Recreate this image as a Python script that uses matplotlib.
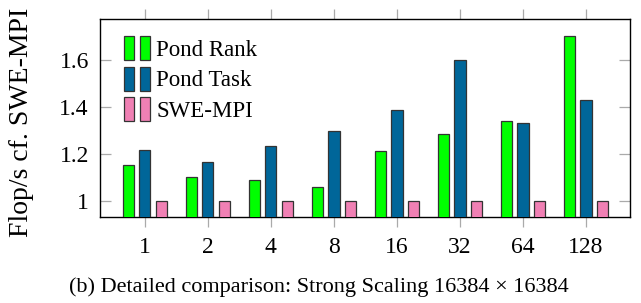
import numpy as np
import matplotlib.pyplot as plt
from matplotlib.patches import Rectangle
from matplotlib.legend_handler import HandlerTuple

plt.rcParams['font.family'] = ['Liberation Serif', 'DejaVu Serif']

# ---------------------------------------------------------
# DATA
# ---------------------------------------------------------
ranks = ['1', '2', '4', '8', '16', '32', '64', '128']
pond_rank = [1.153, 1.103, 1.090, 1.060, 1.214, 1.285, 1.343, 1.705]
pond_task = [1.218, 1.166, 1.233, 1.298, 1.388, 1.602, 1.332, 1.430]
swe_mpi = [1.0, 1.0, 1.0, 1.0, 1.0, 1.0, 1.0, 1.0]

series = [('Pond Rank', pond_rank, '#00ff00'),
          ('Pond Task', pond_task, '#006699'),
          ('SWE-MPI', swe_mpi, '#f080b4')]

# ---------------------------------------------------------
# PLOTTING
# ---------------------------------------------------------
fig = plt.figure(figsize=(6.41, 3.03), dpi=100)
ax = fig.add_axes([0.156, 0.283, 0.827, 0.653])

x = np.arange(len(ranks))
width = 0.18
offsets = [-0.262, 0.0, 0.262]

handles, labels = [], []
for (name, vals, col), off in zip(series, offsets):
    ax.bar(x + off, vals, width, color=col, edgecolor='#333333', linewidth=0.9, zorder=3)
    h = (Rectangle((0, 0), 1, 1, facecolor=col, edgecolor='#333333', linewidth=0.9),
         Rectangle((0, 0), 1, 1, facecolor=col, edgecolor='#333333', linewidth=0.9))
    handles.append(h)
    labels.append(name)

ax.set_xlim(-0.71, 7.70)
ax.set_ylim(0.93, 1.775)
ax.set_xticks(x)
ax.set_xticklabels(ranks)
ax.set_yticks([1.0, 1.2, 1.4, 1.6])
ax.set_yticklabels(['1', '1.2', '1.4', '1.6'])

ax.tick_params(axis='x', which='both', direction='out', length=7.5, width=0.9,
               color='#aaaaaa', top=True, labelsize=17, pad=7)
ax.tick_params(axis='y', which='both', direction='in', length=8, width=0.9,
               color='#aaaaaa', right=True, labelsize=17, pad=8)
for s in ax.spines.values():
    s.set_linewidth(1.0)

ax.set_ylabel('Flop/s cf. SWE-MPI', fontsize=20)
ax.yaxis.set_label_coords(-0.125, 0.48)

ax.legend(handles, labels, handler_map={tuple: HandlerTuple(ndivide=None, pad=0.3)},
          loc='upper left', bbox_to_anchor=(0.02, 0.985), frameon=False,
          fontsize=16.5, handlelength=1.1, handleheight=1.25, handletextpad=0.3,
          labelspacing=0.25, borderaxespad=0.2)

fig.text(0.497, 0.053, '(b) Detailed comparison: Strong Scaling 16384 \u00d7 16384',
         ha='center', va='center', fontsize=16)

plt.savefig('out.png', dpi=100)
